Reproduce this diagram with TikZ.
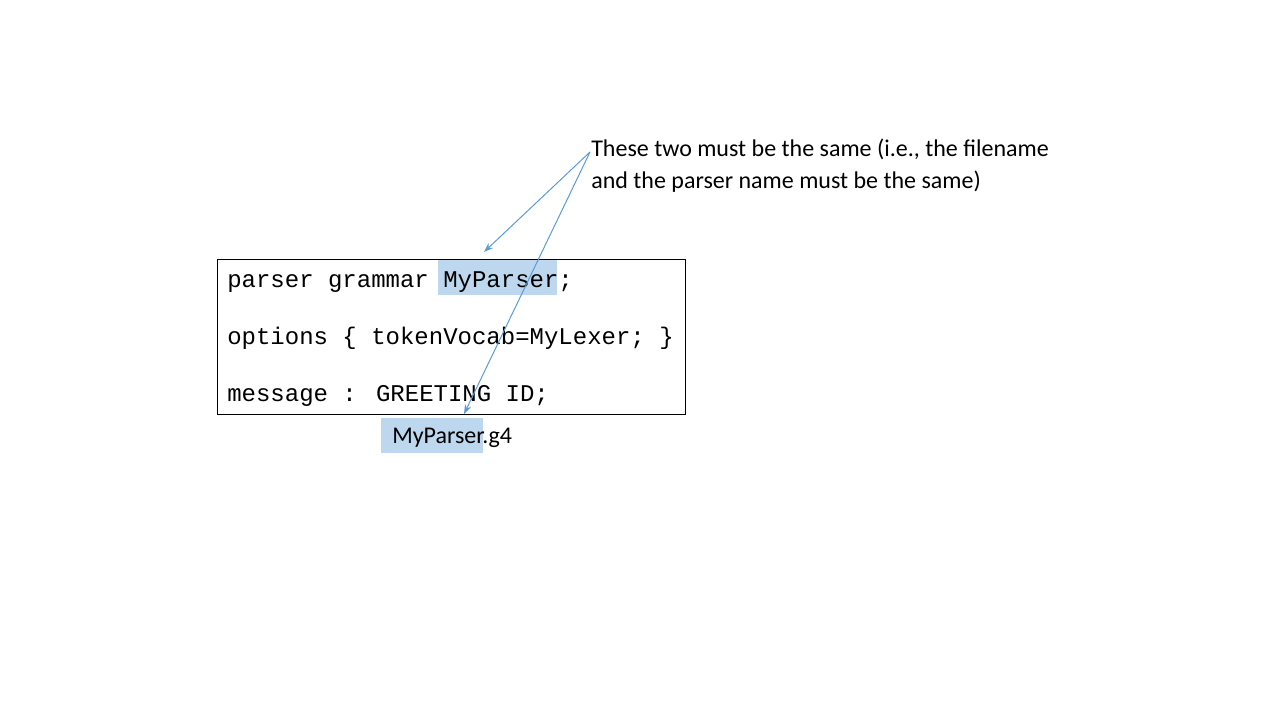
\documentclass[tikz,border=0pt]{standalone}
\usepackage{fontspec}
\setmainfont{Carlito}
\newfontfamily\codefont{Liberation Mono}
\usetikzlibrary{arrows.meta}
\definecolor{hl}{RGB}{189,215,238}
\definecolor{arr}{RGB}{91,155,213}
\begin{document}
\begin{tikzpicture}[x=0.75pt,y=-0.75pt,
  codeline/.style={anchor=base west,inner sep=0pt,font=\codefont\fontsize{18}{20}\selectfont},
  note/.style={anchor=base west,inner sep=0pt,font=\fontsize{18}{20}\selectfont},
  pointer/.style={draw=arr,line width=0.75pt,-{Stealth[length=7pt,width=5pt]}}]
\useasboundingbox (0,0) rectangle (1280,720);
% highlights
\fill[hl] (438,260) rectangle (557,295);
\fill[hl] (381,418) rectangle (483,453);
% code box
\node[draw=black,line width=0.75pt,minimum width=351pt,minimum height=116.25pt,inner sep=0pt,anchor=north west] (box) at (217,259) {};
\node[codeline] (l1) at (227,287) {parser grammar MyParser;};
\node[codeline] (l2) at (227,344) {options \{ tokenVocab=MyLexer; \}};
\node[codeline] (l3) at (227,401) {message : GREETING ID;};
% file name
\node[note] (fname) at (392,443) {MyParser.g4};
% annotation
\node[note] (n1) at (591,157) {These two must be the same (i.e., the filename};
\node[note] (n2) at (591,189) {and the parser name must be the same)};
\coordinate (src) at (590,152);
\coordinate (t1) at (484,252);
\coordinate (t2) at (464,414);
\draw[pointer] (src) -- (t1);
\draw[pointer] (src) -- (t2);
\end{tikzpicture}
\end{document}
